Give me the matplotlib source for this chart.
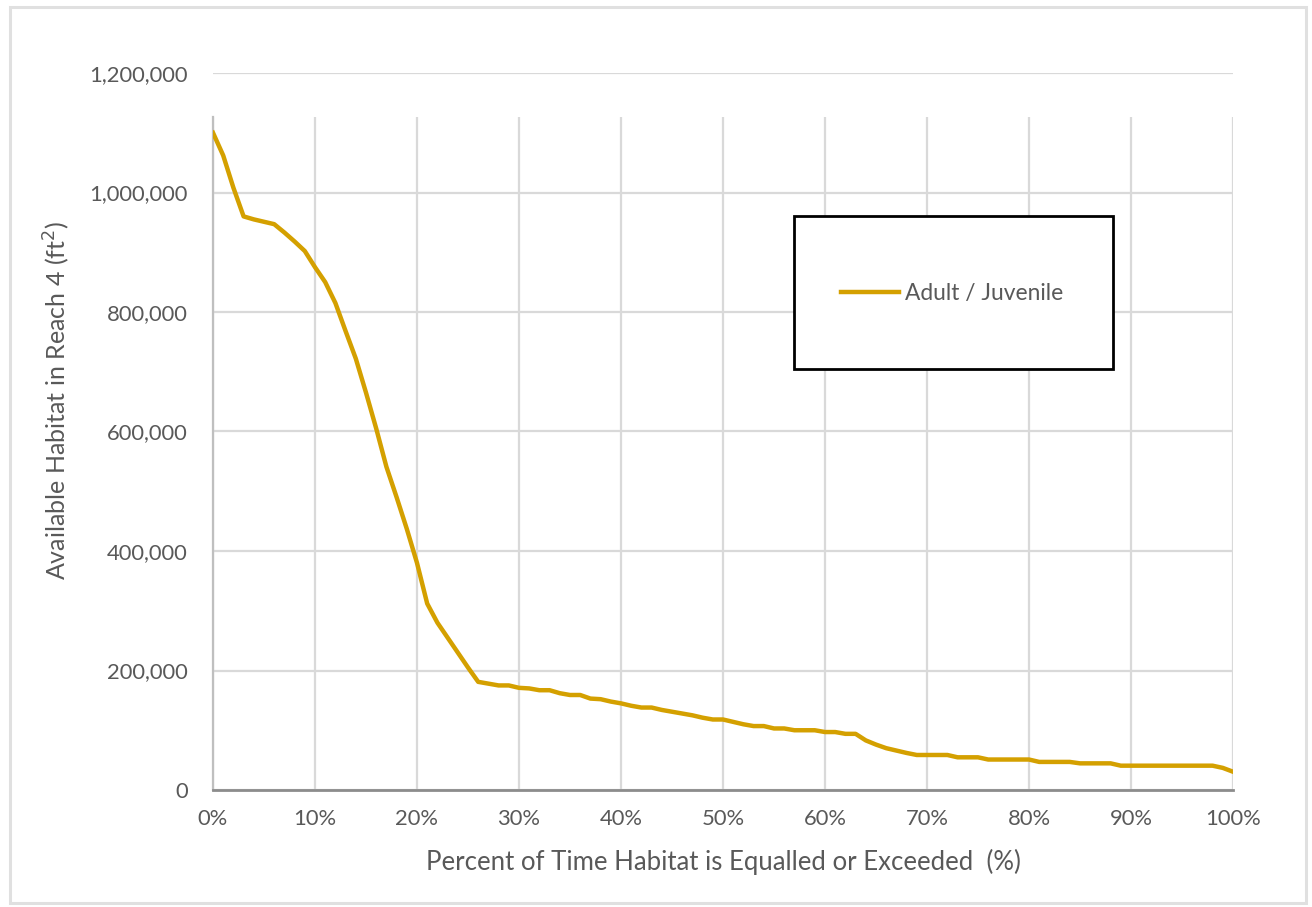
import matplotlib
matplotlib.use("Agg")
import matplotlib.pyplot as plt
from matplotlib.patches import Rectangle
from matplotlib.ticker import FuncFormatter, MultipleLocator

plt.rcParams['font.family'] = ['Lato', 'DejaVu Sans']

percent = list(range(0, 101))
habitat = [
    1100000, 1062000, 1008000, 960000, 955000, 951000, 947000, 933000, 918000, 902000,
    875000, 850000, 815000, 768000, 722000, 665000, 605000, 541000, 490000, 437000,
    380000, 312000, 280000, 255000, 230000, 205000, 181000, 178000, 175000, 175000,
    171000, 170000, 167000, 167000, 162000, 159000, 159000, 153000, 152000, 148000,
    145000, 141000, 138000, 138000, 134000, 131000, 128000, 125000, 121000, 118000,
    118000, 114000, 110000, 107000, 107000, 103000, 103000, 100000, 100000, 100000,
    97000, 97000, 94000, 94000, 83000, 76000, 70000, 66000, 62000, 58600,
    58600, 58600, 58600, 54700, 54700, 54700, 51000, 51000, 51000, 51000,
    51000, 47000, 47000, 47000, 47000, 44600, 44600, 44600, 44600, 40700,
    40700, 40700, 40700, 40700, 40700, 40700, 40700, 40700, 40700, 37000,
    30600,
]
series_label = "Adult / Juvenile"
x_label = "Percent of Time Habitat is Equalled or Exceeded  (%)"
y_label = "Available Habitat in Reach 4 (ft$^2$)"

text_color = "#595959"
grid_color = "#d9d9d9"
line_color = "#D4A000"

fig = plt.figure(figsize=(13.12, 9.07), dpi=100)
fig.patch.set_facecolor("white")

# outer chart border
fig.patches.append(Rectangle((10 / 1312, 4 / 907), 1296 / 1312, 896 / 907,
                             transform=fig.transFigure, fill=False,
                             edgecolor="#e0e0e0", linewidth=2.2, zorder=0))

ax = fig.add_axes([213 / 1312, (907 - 790) / 907, 1020 / 1312, 717 / 907])
ax.set_xlim(0, 100)
ax.set_ylim(0, 1200000)

ax.xaxis.set_major_locator(MultipleLocator(10))
ax.yaxis.set_major_locator(MultipleLocator(200000))
ax.xaxis.set_major_formatter(FuncFormatter(lambda v, p: f"{int(round(v))}%"))
ax.yaxis.set_major_formatter(FuncFormatter(lambda v, p: f"{int(round(v)):,}"))

# horizontal gridlines
ax.grid(axis="y", color=grid_color, linewidth=1.6, zorder=0)
# vertical gridlines (stop below top line as in reference)
ax.vlines(ax.get_xticks(), 0, 1126000, colors=grid_color, linewidth=1.6, zorder=0)

for s in ["top", "right"]:
    ax.spines[s].set_visible(False)
ax.spines["left"].set_color("#bfbfbf")
ax.spines["left"].set_linewidth(1.6)
ax.spines["left"].set_bounds(0, 1126000)
ax.spines["bottom"].set_color("#8c8c8c")
ax.spines["bottom"].set_linewidth(2.0)

ax.tick_params(axis="both", length=0, labelsize=15.8, labelcolor=text_color)
ax.tick_params(axis="x", pad=14)
ax.tick_params(axis="y", pad=18)

ax.plot(percent, habitat, color=line_color, linewidth=3.2, label=series_label, zorder=3,
        solid_joinstyle="round")

ax.set_xlabel(x_label, fontsize=18.5, color=text_color, va="center")
ax.set_ylabel(y_label, fontsize=18, color=text_color, va="center")
ax.xaxis.set_label_coords(0.5005, -0.1004)
ax.yaxis.set_label_coords(-0.153, 0.544)

# legend box
ax.add_patch(Rectangle((0.5696, 0.587), 0.3128, 0.2136, transform=ax.transAxes,
                       fill=True, facecolor="white", edgecolor="black", linewidth=2.0, zorder=4))
leg = ax.legend(loc="center", bbox_to_anchor=(0.7245, 0.693), frameon=False,
                fontsize=16.4, handlelength=2.55, handletextpad=0.25, labelcolor=text_color)
leg.set_zorder(5)

fig.savefig("out.png", dpi=100, facecolor="white")
